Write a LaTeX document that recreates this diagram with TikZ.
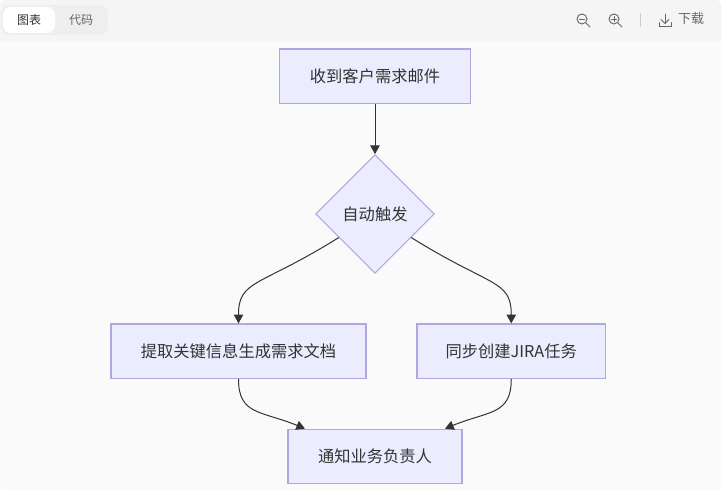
\documentclass[tikz,border=0pt]{standalone}
\usepackage{fontspec}
\setmainfont{Noto Sans CJK SC}
\usetikzlibrary{shapes.geometric,arrows.meta}
\definecolor{nodefill}{HTML}{ECECFF}
\definecolor{nodeline}{HTML}{B3A5DE}
\definecolor{inkdark}{HTML}{333333}
\definecolor{inkgrey}{HTML}{666666}
\tikzset{
  flowbox/.style={rectangle, draw=nodeline, fill=nodefill, line width=.9pt, text=inkdark,
    minimum height=40.9pt, inner sep=0pt, font=\fontsize{12.2}{14}\selectfont},
  flowdiamond/.style={diamond, draw=nodeline, fill=nodefill, line width=.75pt, text=inkdark,
    minimum width=89pt, minimum height=89pt, inner sep=0pt, font=\fontsize{12.2}{14}\selectfont},
  edge/.style={draw=inkdark, line width=.75pt, -{Triangle[length=6.5pt,width=7pt]}},
  toolicon/.style={draw=inkgrey, line width=.7pt, line cap=round},
}
\begin{document}
\begin{tikzpicture}[x=.75pt,y=-.75pt]
\useasboundingbox (0,0) rectangle (727,495);
\fill[white] (0,0) rectangle (727,495);
% canvas and tool bar
\fill[color={rgb,255:red,250;green,250;blue,250},rounded corners=4.5pt] (0,0) rectangle (721,490);
\fill[color={rgb,255:red,245;green,245;blue,245},rounded corners=4.5pt] (0,0) rectangle (721,30);
\fill[color={rgb,255:red,245;green,245;blue,245}] (0,20) rectangle (721,41);
\fill[color={rgb,255:red,238;green,238;blue,238},rounded corners=6pt] (1,5) rectangle (108,35);
\fill[white,rounded corners=6pt] (3,7) rectangle (55,33);
\node[text=inkdark,font=\fontsize{9}{11}\selectfont] (tabchart) at (29,20) {图表};
\node[text=inkgrey,font=\fontsize{9}{11}\selectfont] (tabcode) at (81,20) {代码};
\foreach \cx in {582,614} {
    \draw[toolicon] (\cx,19) circle (5);
    \draw[toolicon] (\cx+4,23) -- (\cx+8,27);
    \draw[toolicon] (\cx-2.5,19) -- (\cx+2.5,19);
}
\draw[toolicon] (614,16.5) -- (614,21.5);
\draw[color={rgb,255:red,204;green,204;blue,204},line width=.75pt] (640,13) -- (640,27);
\draw[toolicon] (665,14) -- (665,23);
\draw[toolicon] (661,19.5) -- (665,23.5) -- (669,19.5);
\draw[toolicon] (659,22.5) -- (659,26) -- (671,26) -- (671,22.5);
\node[text=inkgrey,font=\fontsize{9.75}{11}\selectfont] (download) at (691,19) {下载};
% flow
\node[flowbox,minimum width=143.25pt] (mail) at (375,76.25) {收到客户需求邮件};
\node[flowdiamond] (auto) at (375,214) {自动触发};
\node[flowbox,minimum width=191.25pt] (extract) at (238.5,351.25) {提取关键信息生成需求文档};
\node[flowbox,minimum width=141.4pt] (jira) at (511.25,351.25) {同步创建JIRA任务};
\node[flowbox,minimum width=130.5pt] (notify) at (375,456.5) {通知业务负责人};
\draw[edge] (mail) -- (auto);
\draw[edge] (auto.213) .. controls +(-80,50) and +(0,-44) .. (extract.north);
\draw[edge] (auto.-33) .. controls +(80,50) and +(0,-44) .. (jira.north);
\draw[edge] (extract.south) .. controls +(0,36) and +(-44,-18) .. ([xshift=-52.5pt]notify.north);
\draw[edge] (jira.south) .. controls +(0,36) and +(44,-18) .. ([xshift=52.5pt]notify.north);
\end{tikzpicture}
\end{document}
